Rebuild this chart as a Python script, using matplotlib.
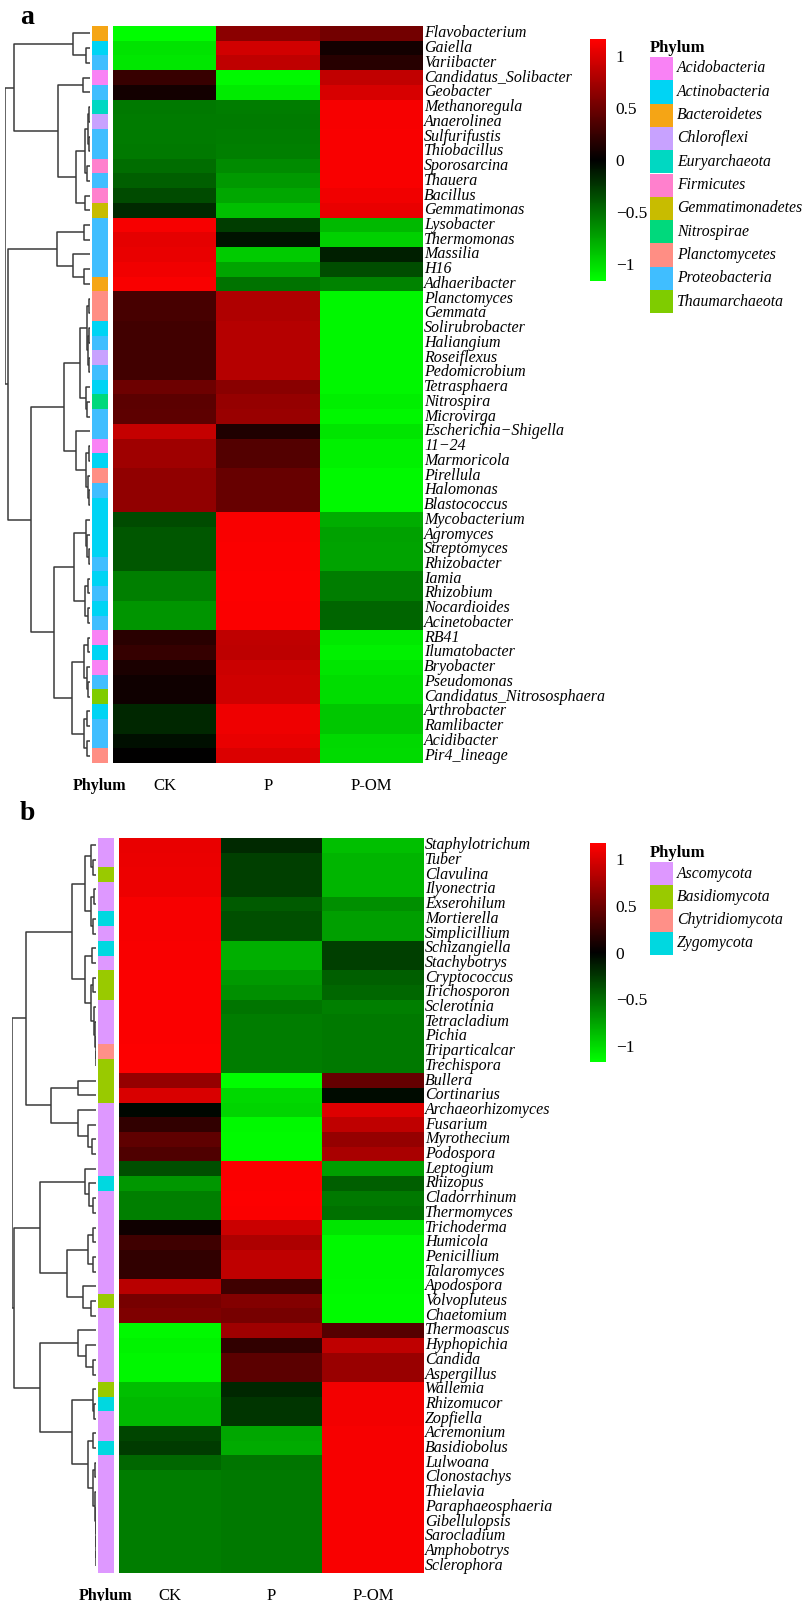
import numpy as np
import matplotlib
matplotlib.use('Agg')
import matplotlib.pyplot as plt
from matplotlib.colors import LinearSegmentedColormap, Normalize, ListedColormap
from matplotlib.cm import ScalarMappable
from matplotlib.patches import Rectangle

# ---------------- panel a : bacteria ----------------
genera_a = ['Flavobacterium', 'Gaiella', 'Variibacter', 'Candidatus_Solibacter', 'Geobacter',
            'Methanoregula', 'Anaerolinea', 'Sulfurifustis', 'Thiobacillus', 'Sporosarcina',
            'Thauera', 'Bacillus', 'Gemmatimonas', 'Lysobacter', 'Thermomonas',
            'Massilia', 'H16', 'Adhaeribacter', 'Planctomyces', 'Gemmata',
            'Solirubrobacter', 'Haliangium', 'Roseiflexus', 'Pedomicrobium', 'Tetrasphaera',
            'Nitrospira', 'Microvirga', 'Escherichia\u2212Shigella', '11\u221224', 'Marmoricola',
            'Pirellula', 'Halomonas', 'Blastococcus', 'Mycobacterium', 'Agromyces',
            'Streptomyces', 'Rhizobacter', 'Iamia', 'Rhizobium', 'Nocardioides',
            'Acinetobacter', 'RB41', 'Ilumatobacter', 'Bryobacter', 'Pseudomonas',
            'Candidatus_Nitrososphaera', 'Arthrobacter', 'Ramlibacter', 'Acidibacter', 'Pir4_lineage']
phylum_a = ['Bacteroidetes', 'Actinobacteria', 'Proteobacteria', 'Acidobacteria', 'Proteobacteria',
            'Euryarchaeota', 'Chloroflexi', 'Proteobacteria', 'Proteobacteria', 'Firmicutes',
            'Proteobacteria', 'Firmicutes', 'Gemmatimonadetes', 'Proteobacteria', 'Proteobacteria',
            'Proteobacteria', 'Proteobacteria', 'Bacteroidetes', 'Planctomycetes', 'Planctomycetes',
            'Actinobacteria', 'Proteobacteria', 'Chloroflexi', 'Proteobacteria', 'Actinobacteria',
            'Nitrospirae', 'Proteobacteria', 'Proteobacteria', 'Acidobacteria', 'Actinobacteria',
            'Planctomycetes', 'Proteobacteria', 'Actinobacteria', 'Actinobacteria', 'Actinobacteria',
            'Actinobacteria', 'Proteobacteria', 'Actinobacteria', 'Proteobacteria', 'Actinobacteria',
            'Proteobacteria', 'Acidobacteria', 'Actinobacteria', 'Acidobacteria', 'Proteobacteria',
            'Thaumarchaeota', 'Actinobacteria', 'Proteobacteria', 'Proteobacteria', 'Planctomycetes']
ck_a = [-1.15, -1.03, -1.05, 0.25, 0.09, -0.55, -0.56, -0.56, -0.55, -0.50,
        -0.43, -0.34, -0.19, 1.12, 1.04, 1.06, 1.10, 1.13, 0.32, 0.32,
        0.30, 0.30, 0.30, 0.30, 0.50, 0.41, 0.42, 0.90, 0.72, 0.72,
        0.66, 0.66, 0.66, -0.34, -0.40, -0.40, -0.40, -0.58, -0.58, -0.68,
        -0.68, 0.19, 0.24, 0.12, 0.07, 0.07, -0.18, -0.18, -0.07, 0.00]
p_a = [0.63, 0.95, 0.87, -1.13, -1.07, -0.57, -0.56, -0.57, -0.58, -0.63,
       -0.70, -0.76, -0.87, -0.28, -0.09, -0.92, -0.75, -0.52, 0.80, 0.80,
       0.82, 0.82, 0.82, 0.82, 0.62, 0.68, 0.70, 0.14, 0.38, 0.38,
       0.47, 0.47, 0.47, 1.13, 1.13, 1.14, 1.14, 1.15, 1.15, 1.14,
       1.14, 0.87, 0.86, 0.92, 0.94, 0.94, 1.09, 1.09, 1.06, 1.00]
pom_a = [0.52, 0.09, 0.18, 0.88, 0.98, 1.12, 1.12, 1.13, 1.13, 1.13,
         1.13, 1.10, 1.06, -0.84, -0.95, -0.14, -0.35, -0.60, -1.12, -1.12,
         -1.12, -1.12, -1.12, -1.12, -1.12, -1.09, -1.12, -1.04, -1.10, -1.10,
         -1.13, -1.13, -1.13, -0.79, -0.73, -0.74, -0.74, -0.57, -0.57, -0.46,
         -0.46, -1.06, -1.10, -1.04, -1.01, -1.01, -0.91, -0.91, -0.99, -1.00]
# row dendrogram: [height, left, right], leaves are row indices
tree_a = [1.0,
          [0.90,
           [0.20, 0, [0.045, 1, 2]],
           [0.38, [0.08, 3, 4],
            [0.165, [0.06, [0.02, [0.01, 5, 6], [0.012, 7, 8]], [0.04, 9, 10]], [0.06, 11, 12]]]],
          [0.96,
           [0.39, [0.07, 13, 14], [0.20, 15, [0.07, 16, 17]]],
           [0.70,
            [0.31,
             [0.12, [0.03, [0.01, 18, 19], [0.02, [0.008, 20, 21], [0.01, 22, 23]]],
              [0.05, 24, [0.03, 25, 26]]],
             [0.165, 27, [0.05, [0.015, 28, 29], [0.02, 30, [0.01, 31, 32]]]]],
            [0.42,
             [0.19, [0.05, 33, [0.03, 34, [0.008, 35, 36]]], [0.06, [0.02, 37, 38], [0.02, 39, 40]]],
             [0.215, [0.07, [0.02, 41, 42], [0.03, 43, [0.02, 44, 45]]],
              [0.07, [0.03, 46, 47], [0.03, 48, 49]]]]]]]

# ---------------- panel b : fungi ----------------
genera_b = ['Staphylotrichum', 'Tuber', 'Clavulina', 'Ilyonectria', 'Exserohilum',
            'Mortierella', 'Simplicillium', 'Schizangiella', 'Stachybotrys', 'Cryptococcus',
            'Trichosporon', 'Sclerotinia', 'Tetracladium', 'Pichia', 'Triparticalcar',
            'Trechispora', 'Bullera', 'Cortinarius', 'Archaeorhizomyces', 'Fusarium',
            'Myrothecium', 'Podospora', 'Leptogium', 'Rhizopus', 'Cladorrhinum',
            'Thermomyces', 'Trichoderma', 'Humicola', 'Penicillium', 'Talaromyces',
            'Apodospora', 'Volvopluteus', 'Chaetomium', 'Thermoascus', 'Hyphopichia',
            'Candida', 'Aspergillus', 'Wallemia', 'Rhizomucor', 'Zopfiella',
            'Acremonium', 'Basidiobolus', 'Lulwoana', 'Clonostachys', 'Thielavia',
            'Paraphaeosphaeria', 'Gibellulopsis', 'Sarocladium', 'Amphobotrys', 'Sclerophora']
phylum_b = ['Ascomycota', 'Ascomycota', 'Basidiomycota', 'Ascomycota', 'Ascomycota',
            'Zygomycota', 'Ascomycota', 'Zygomycota', 'Ascomycota', 'Basidiomycota',
            'Basidiomycota', 'Ascomycota', 'Ascomycota', 'Ascomycota', 'Chytridiomycota',
            'Basidiomycota', 'Basidiomycota', 'Basidiomycota', 'Ascomycota', 'Ascomycota',
            'Ascomycota', 'Ascomycota', 'Ascomycota', 'Zygomycota', 'Ascomycota',
            'Ascomycota', 'Ascomycota', 'Ascomycota', 'Ascomycota', 'Ascomycota',
            'Ascomycota', 'Basidiomycota', 'Ascomycota', 'Ascomycota', 'Ascomycota',
            'Ascomycota', 'Ascomycota', 'Basidiomycota', 'Zygomycota', 'Ascomycota',
            'Ascomycota', 'Zygomycota', 'Ascomycota', 'Ascomycota', 'Ascomycota',
            'Ascomycota', 'Ascomycota', 'Ascomycota', 'Ascomycota', 'Ascomycota']
ck_b = [1.06, 1.07, 1.08, 1.08, 1.12, 1.12, 1.12, 1.13, 1.13, 1.14,
        1.14, 1.14, 1.14, 1.14, 1.15, 1.15, 0.68, 0.99, -0.03, 0.22,
        0.43, 0.36, -0.36, -0.69, -0.58, -0.58, 0.07, 0.29, 0.22, 0.22,
        0.84, 0.54, 0.58, -1.13, -1.11, -1.12, -1.12, -0.87, -0.84, -0.84,
        -0.31, -0.27, -0.47, -0.57, -0.57, -0.57, -0.57, -0.57, -0.57, -0.57]
p_b = [-0.19, -0.29, -0.29, -0.29, -0.41, -0.36, -0.36, -0.80, -0.80, -0.70,
       -0.65, -0.53, -0.57, -0.57, -0.57, -0.57, -1.15, -0.99, -0.97, -1.13,
       -1.14, -1.14, 1.14, 1.14, 1.15, 1.14, 0.92, 0.79, 0.87, 0.87,
       0.29, 0.60, 0.54, 0.72, 0.22, 0.41, 0.41, -0.18, -0.24, -0.24,
       -0.76, -0.78, -0.53, -0.55, -0.55, -0.55, -0.55, -0.55, -0.55, -0.55]
pom_b = [-0.87, -0.82, -0.82, -0.82, -0.65, -0.72, -0.72, -0.29, -0.29, -0.43,
         -0.47, -0.58, -0.55, -0.55, -0.55, -0.55, 0.46, -0.05, 1.01, 0.87,
         0.68, 0.77, -0.72, -0.43, -0.55, -0.51, -1.04, -1.13, -1.12, -1.12,
         -1.13, -1.14, -1.14, 0.39, 0.87, 0.70, 0.70, 1.11, 1.11, 1.11,
         1.12, 1.12, 1.12, 1.13, 1.13, 1.13, 1.13, 1.13, 1.13, 1.13]
tree_b = [1.0,
          [0.83,
           [0.29,
            [0.13, [0.06, 0, [0.03, 1, 2]], [0.06, [0.02, 3, 4], [0.03, 5, 6]]],
            [0.13, [0.05, 7, 8],
             [0.06, [0.04, 9, 10], [0.02, 11, [0.01, 12, [0.005, 13, [0.003, 14, 15]]]]]]],
           [0.53, [0.21, 16, 17], [0.22, 18, [0.10, 19, [0.05, 20, 21]]]]],
          [0.98,
           [0.67,
            [0.13, 22, [0.08, 23, [0.04, 24, 25]]],
            [0.35, [0.10, [0.04, 26, 27], [0.03, 28, 29]], [0.15, 30, [0.06, 31, 32]]]],
           [0.67,
            [0.21, 33, [0.12, 34, [0.04, 35, 36]]],
            [0.29, [0.04, 37, [0.02, 38, 39]],
             [0.09, [0.03, 40, 41],
              [0.03, [0.01, 42, 43],
               [0.008, 44, [0.005, 45, [0.004, 46, [0.003, 47, [0.002, 48, 49]]]]]]]]]]]

treatments = ['CK', 'P', 'P-OM']

phylum_colors = {
    'Acidobacteria': '#F982F5', 'Actinobacteria': '#00D4F4', 'Bacteroidetes': '#F5A515',
    'Chloroflexi': '#C8A2FF', 'Euryarchaeota': '#00D8C2', 'Firmicutes': '#FF80CD',
    'Gemmatimonadetes': '#C8BC00', 'Nitrospirae': '#00D97C', 'Planctomycetes': '#FF8E84',
    'Proteobacteria': '#40BEFF', 'Thaumarchaeota': '#7FCC00',
    'Ascomycota': '#DE98FF', 'Basidiomycota': '#99CA00', 'Chytridiomycota': '#FF9088',
    'Zygomycota': '#00D8E0',
}
legend_a = ['Acidobacteria', 'Actinobacteria', 'Bacteroidetes', 'Chloroflexi', 'Euryarchaeota',
            'Firmicutes', 'Gemmatimonadetes', 'Nitrospirae', 'Planctomycetes', 'Proteobacteria',
            'Thaumarchaeota']
legend_b = ['Ascomycota', 'Basidiomycota', 'Chytridiomycota', 'Zygomycota']

# ---------------- figure set-up ----------------
plt.rcParams['font.family'] = ['Liberation Serif', 'DejaVu Serif']
W, H = 808, 1601
fig = plt.figure(figsize=(W / 100, H / 100), dpi=100)
cmap = LinearSegmentedColormap.from_list('gkr', ['#00FF00', '#000000', '#FF0000'])
norm = Normalize(vmin=-1.165, vmax=1.165)


def px_axes(x0, y0, x1, y1):
    # axes placed by pixel box (top-left origin)
    ax = fig.add_axes([x0 / W, 1 - y1 / H, (x1 - x0) / W, (y1 - y0) / H])
    ax.set_axis_off()
    return ax


def draw_tree(ax, node):
    if isinstance(node, int):
        return node + 0.5, 0.0
    h, left, right = node
    yl, hl = draw_tree(ax, left)
    yr, hr = draw_tree(ax, right)
    ax.plot([hl, h, h, hr], [yl, yl, yr, yr], color='#3a3a3a', lw=1.1, solid_capstyle='butt')
    return (yl + yr) / 2, h


def panel(letter, letter_y, genera, phyla, ck, p, pom, tree, legend_names, box):
    top, bottom, dx0, dx1, sx0, sx1, hx0, hx1, cb_top, cb_bot, leg_top = box
    n = len(genera)
    data = np.column_stack([ck, p, pom])

    # heatmap
    ax = px_axes(hx0, top, hx1, bottom)
    ax.pcolormesh(np.arange(4), np.arange(n + 1), data, cmap=cmap, norm=norm)
    ax.set_xlim(0, 3)
    ax.set_ylim(n, 0)
    for i, g in enumerate(genera):
        ax.text(3.012, i + 0.5, g, style='italic', fontsize=11.5, va='center', ha='left')
    for j, t in enumerate(treatments):
        ax.text(j + 0.5, n + 1.55, t, fontsize=12, ha='center', va='center')

    # phylum strip
    axs = px_axes(sx0, top, sx1, bottom)
    names = sorted(set(phyla))
    idx = np.array([[names.index(ph)] for ph in phyla])
    axs.pcolormesh(np.arange(2), np.arange(n + 1), idx,
                   cmap=ListedColormap([phylum_colors[nm] for nm in names]),
                   vmin=-0.5, vmax=len(names) - 0.5)
    axs.set_xlim(0, 1)
    axs.set_ylim(n, 0)
    axs.text(0.5, n + 1.55, 'Phylum', fontsize=11.5, fontweight='bold', ha='center', va='center')

    # dendrogram
    axd = px_axes(dx0, top, dx1, bottom)
    draw_tree(axd, tree)
    axd.set_xlim(1.0, 0.0)
    axd.set_ylim(n, 0)

    # panel letter
    fig.text(20 / W, 1 - letter_y / H, letter, fontsize=20, fontweight='bold', va='center')

    # colour key
    cax = fig.add_axes([590 / W, 1 - cb_bot / H, 16 / W, (cb_bot - cb_top) / H])
    cb = fig.colorbar(ScalarMappable(norm=norm, cmap=cmap), cax=cax)
    cb.outline.set_visible(False)
    cb.set_ticks([-1, -0.5, 0, 0.5, 1])
    cb.set_ticklabels(['\u22121', '\u22120.5', '0', '0.5', '1'])
    cax.tick_params(length=0, pad=7, labelsize=12.5)

    # phylum legend
    axl = px_axes(645, leg_top - 20, 808, leg_top + 24 * len(legend_names) + 5)
    axl.set_xlim(645, 808)
    axl.set_ylim(leg_top + 24 * len(legend_names) + 5, leg_top - 20)
    axl.text(650, leg_top - 9, 'Phylum', fontsize=12, fontweight='bold', va='center')
    for k, nm in enumerate(legend_names):
        y0 = leg_top + 23.3 * k
        axl.add_patch(Rectangle((650, y0), 23, 23.3, facecolor=phylum_colors[nm], edgecolor='none'))
        axl.text(677, y0 + 11.5, nm, style='italic', fontsize=11.3, va='center')


panel('a', 18, genera_a, phylum_a, ck_a, p_a, pom_a, tree_a, legend_a,
      (26, 763, 5, 90, 92, 108, 113, 423, 39, 281, 57))
panel('b', 814, genera_b, phylum_b, ck_b, p_b, pom_b, tree_b, legend_b,
      (838, 1573, 12, 96, 98, 114, 119, 424, 843, 1062, 862))

fig.savefig('out.png', dpi=100)
